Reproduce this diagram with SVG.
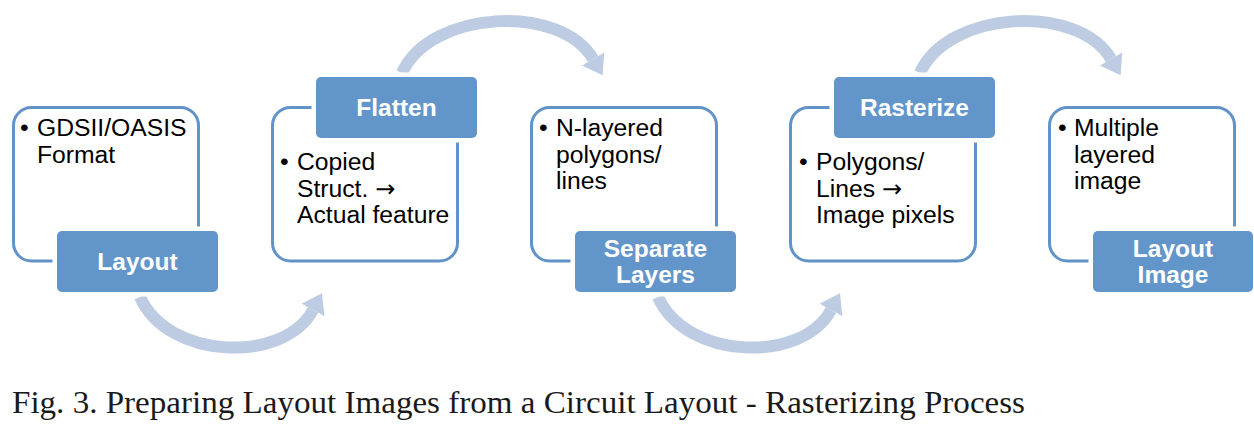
<svg xmlns="http://www.w3.org/2000/svg" width="1254" height="432" viewBox="0 0 1254 432">
<style>
.box{fill:#ffffff;stroke:#6193c8;stroke-width:3}
.lbl{fill:#6296ca;stroke:#ffffff;stroke-width:9;paint-order:stroke}
.arc{fill:none;stroke:#bdcce2;stroke-width:12;stroke-linecap:butt}
.t{font-family:"Liberation Sans",Arial,sans-serif;font-size:24.7px;fill:#000000}
.ar{font-family:"DejaVu Sans",sans-serif;font-size:24px}
.lt{font-family:"Liberation Sans",Arial,sans-serif;font-size:24.5px;font-weight:bold;fill:#ffffff;text-anchor:middle}
.cap{font-family:"Liberation Serif","Times New Roman",serif;font-size:31px;fill:#1a1a1a}
</style>
<defs>
<marker id="ah" markerUnits="userSpaceOnUse" markerWidth="24" markerHeight="30" refX="0" refY="13" orient="auto" viewBox="0 0 24 30">
<path d="M0,0 L19,13 L0,26 Z" fill="#bdcce2"/>
</marker>
</defs>
<rect width="1254" height="432" fill="#ffffff"/>
<g id="connectors">
<path class="arc" d="M140,297 C168,360 284,364 313,310" marker-end="url(#ah)"/>
<path class="arc" d="M402,73 C430,10 560,3 593,59" marker-end="url(#ah)"/>
<path class="arc" d="M658,297 C686,360 802,364 831,310" marker-end="url(#ah)"/>
<path class="arc" d="M920,73 C948,10 1078,3 1111,59" marker-end="url(#ah)"/>
</g>
<g id="node-layout">
<rect class="box" x="13.5" y="107.5" width="185" height="153.5" rx="18"/>
<text class="t" x="20" y="136">•</text>
<text class="t" x="37" y="136">GDSII/OASIS</text>
<text class="t" x="37" y="163">Format</text>
<rect class="lbl" x="57" y="231" width="161" height="61" rx="5"/>
<text class="lt" x="137.5" y="270">Layout</text>
</g>
<g id="node-flatten">
<rect class="box" x="272.5" y="107.5" width="185" height="153.5" rx="18"/>
<text class="t" x="280" y="170">•</text>
<text class="t" x="297" y="170">Copied</text>
<text class="t" x="297" y="197">Struct. <tspan class="ar">→</tspan></text>
<text class="t" x="297" y="223">Actual feature</text>
<rect class="lbl" x="316" y="77" width="161" height="61" rx="5"/>
<text class="lt" x="396.5" y="116">Flatten</text>
</g>
<g id="node-separate">
<rect class="box" x="531.5" y="107.5" width="185" height="153.5" rx="18"/>
<text class="t" x="539" y="136">•</text>
<text class="t" x="556" y="136">N-layered</text>
<text class="t" x="556" y="163">polygons/</text>
<text class="t" x="556" y="189">lines</text>
<rect class="lbl" x="575" y="231" width="161" height="61" rx="5"/>
<text class="lt" x="655.5" y="257">Separate</text>
<text class="lt" x="655.5" y="283">Layers</text>
</g>
<g id="node-rasterize">
<rect class="box" x="790.5" y="107.5" width="185" height="153.5" rx="18"/>
<text class="t" x="799" y="170">•</text>
<text class="t" x="816" y="170">Polygons/</text>
<text class="t" x="816" y="197">Lines <tspan class="ar">→</tspan></text>
<text class="t" x="816" y="223">Image pixels</text>
<rect class="lbl" x="834" y="77" width="161" height="61" rx="5"/>
<text class="lt" x="914.5" y="116">Rasterize</text>
</g>
<g id="node-layout-image">
<rect class="box" x="1049.5" y="107.5" width="185" height="153.5" rx="18"/>
<text class="t" x="1058" y="136">•</text>
<text class="t" x="1074" y="136">Multiple</text>
<text class="t" x="1074" y="163">layered</text>
<text class="t" x="1074" y="189">image</text>
<rect class="lbl" x="1093" y="231" width="160" height="61" rx="5"/>
<text class="lt" x="1173" y="257">Layout</text>
<text class="lt" x="1173" y="283">Image</text>
</g>
<text class="cap" x="12" y="413" textLength="1013" lengthAdjust="spacingAndGlyphs">Fig. 3. Preparing Layout Images from a Circuit Layout - Rasterizing Process</text>
</svg>
